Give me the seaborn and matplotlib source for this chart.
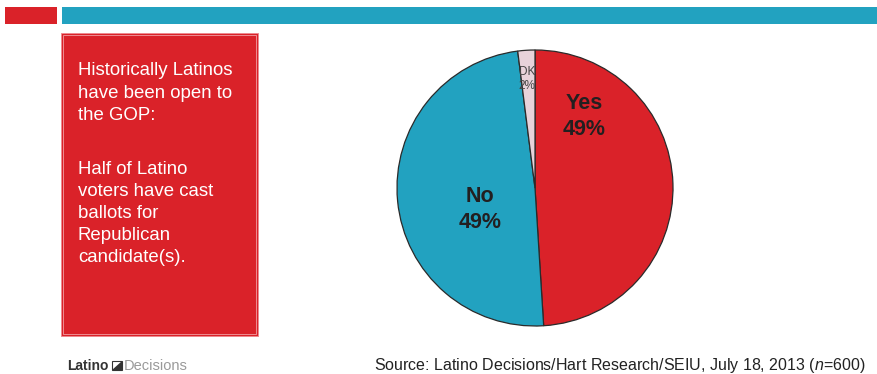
import matplotlib
matplotlib.use("Agg")
import matplotlib.pyplot as plt
from matplotlib.patches import Rectangle, Polygon
import seaborn as sns

# Survey result: have you ever voted for a Republican candidate?
answers = ["Yes", "No", "DK"]
shares = [49, 49, 2]

headline = ["Historically Latinos", "have been open to", "the GOP:"]
detail = ["Half of Latino", "voters have cast", "ballots for", "Republican", "candidate(s)."]
source_text = "Source: Latino Decisions/Hart Research/SEIU, July 18, 2013 ("

sns.set_theme(style="white")
plt.rcParams["font.family"] = ["Liberation Sans", "DejaVu Sans"]
plt.rcParams["mathtext.fontset"] = "custom"
plt.rcParams["mathtext.it"] = "Liberation Sans:italic"
plt.rcParams["mathtext.rm"] = "Liberation Sans"

RED = "#DA2229"
TEAL = "#22A2C0"
PINK = "#E8D2DA"
palette = sns.color_palette([RED, TEAL, PINK])

W, H = 878, 374
fig = plt.figure(figsize=(W / 100, H / 100), dpi=100)
fig.patch.set_facecolor("white")


def fx(px):
    return px / W


def fy(py):
    return 1 - py / H


# header strips
fig.patches.append(Rectangle((fx(5), fy(24)), fx(52), 17 / H, transform=fig.transFigure,
                             facecolor=RED, edgecolor="none"))
fig.patches.append(Rectangle((fx(62), fy(24)), fx(816), 17 / H, transform=fig.transFigure,
                             facecolor=TEAL, edgecolor="none"))

# red call-out box
fig.patches.append(Rectangle((fx(61), fy(336)), fx(197), 303 / H, transform=fig.transFigure,
                             facecolor=RED, edgecolor="#EE8A8F", linewidth=0.7))
fig.patches.append(Rectangle((fx(63), fy(334)), fx(193), 299 / H, transform=fig.transFigure,
                             facecolor="none", edgecolor="#F19EA2", linewidth=0.6))

y = 75
for line in headline:
    fig.text(fx(78), fy(y), line, color="white", fontsize=13.4, va="baseline", ha="left")
    y += 22.5
y = 174
for line in detail:
    fig.text(fx(78), fy(y), line, color="white", fontsize=13.4, va="baseline", ha="left")
    y += 22

# pie chart
cx, cy, r = 535, 188, 138
ax = fig.add_axes([fx(cx - r), (H - cy - r) / H, fx(2 * r), 2 * r / H])
ax.pie(shares, colors=palette, startangle=90, counterclock=False,
       wedgeprops=dict(edgecolor="#2a2a2a", linewidth=0.9))
ax.set_xlim(-1, 1)
ax.set_ylim(-1, 1)
ax.axis("off")


def dpos(px, py):
    return (px - cx) / r, (cy - py) / r


label_spots = {"Yes": (584, 103, 129), "No": (480, 196, 222)}
for name, val in zip(answers, shares):
    if name in label_spots:
        px, py1, py2 = label_spots[name]
        ax.text(*dpos(px, py1), name, ha="center", va="center", fontsize=15.5,
                fontweight="bold", color="#231F20")
        ax.text(*dpos(px, py2), f"{val}%", ha="center", va="center", fontsize=15.5,
                fontweight="bold", color="#231F20")
    else:
        ax.text(*dpos(527, 72), name, ha="center", va="center", fontsize=8.5, color="#444444")
        ax.text(*dpos(527, 86), f"{val}%", ha="center", va="center", fontsize=8.5, color="#444444")

# footer: logo and source
fig.text(fx(67), fy(366), "Latino", fontsize=10, fontweight="bold", color="#333333",
         va="center", ha="left")
fig.patches.append(Polygon([[fx(112), fy(370)], [fx(122), fy(361)], [fx(122), fy(370)]],
                           closed=True, transform=fig.transFigure, facecolor="#333333",
                           edgecolor="none"))
fig.patches.append(Rectangle((fx(112), fy(370)), fx(10), 9 / H, transform=fig.transFigure,
                             facecolor="none", edgecolor="#333333", linewidth=0.8))
fig.text(fx(123.5), fy(366), "Decisions", fontsize=10.5, color="#9a9a9a", va="center", ha="left")

fig.text(fx(866), fy(370), source_text + r"$\it{n}$" + "=600)", fontsize=11.5,
         color="#222222", va="baseline", ha="right")

fig.savefig("out.png", dpi=100, facecolor="white")
